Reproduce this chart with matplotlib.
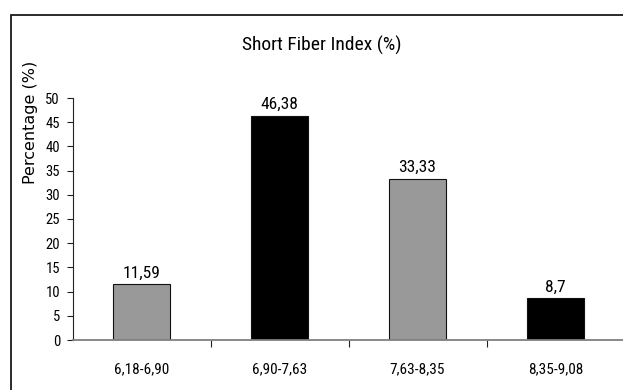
import matplotlib
matplotlib.use("Agg")
import matplotlib.pyplot as plt
from matplotlib.patches import Rectangle
from matplotlib.ticker import FixedLocator
from matplotlib import font_manager

categories = ["6,18-6,90", "6,90-7,63", "7,63-8,35", "8,35-9,08"]
values = [11.59, 46.38, 33.33, 8.7]
value_labels = ["11,59", "46,38", "33,33", "8,7"]
bar_colors = ["#999999", "#000000", "#999999", "#000000"]
y_ticks = list(range(0, 55, 5))

W, H = 623, 390

# pick a narrow face if one is installed
installed = {f.name for f in font_manager.fontManager.ttflist}
narrow_candidates = ["Liberation Sans Narrow", "DejaVu Sans Condensed",
                     "Roboto Condensed", "Open Sans Condensed", "Roboto"]
NARROW = [n for n in narrow_candidates if n in installed][:1] + ["DejaVu Sans"]

fig = plt.figure(figsize=(W / 100, H / 100), dpi=100)
fig.patch.set_facecolor("white")

# chart-area frame
fig.patches.append(Rectangle((11 / W, -0.2), 1.2, (H - 15) / H + 0.2,
                             transform=fig.transFigure, fill=False,
                             edgecolor="#1a1a1a", linewidth=1.3))

ax = fig.add_axes([72.5 / W, 50 / H, 552 / W, 242 / H])
x = list(range(len(categories)))
ax.bar(x, values, width=0.41, color=bar_colors, edgecolor="#111111",
       linewidth=0.8, zorder=2)

ax.set_xlim(-0.5, 3.5)
ax.set_ylim(0, 50)

for s in ("top", "right"):
    ax.spines[s].set_visible(False)
ax.spines["left"].set_color("#222222")
ax.spines["left"].set_linewidth(0.8)
ax.spines["bottom"].set_color("#808080")
ax.spines["bottom"].set_linewidth(1.3)
ax.spines["bottom"].set_zorder(3)

ax.set_yticks(y_ticks)
ax.set_yticklabels([str(v) for v in y_ticks], family=NARROW, fontsize=10.5)
ax.tick_params(axis="y", direction="out", length=4, width=0.8,
               color="#222222", pad=5)

ax.xaxis.set_major_locator(FixedLocator(x))
ax.set_xticklabels(categories, family=NARROW, fontsize=11)
ax.tick_params(axis="x", which="major", length=0, pad=16)
ax.xaxis.set_minor_locator(FixedLocator([0.5, 1.5, 2.5]))
ax.tick_params(axis="x", which="minor", direction="out", length=5,
               width=0.8, color="#222222")

for xi, v, lab in zip(x, values, value_labels):
    ax.annotate(lab, (xi, v), xytext=(0, 2.5), textcoords="offset points",
                ha="center", va="bottom", family=NARROW, fontsize=12.5)

fig.text(322 / W, 1 - 45 / H, "Short Fiber Index (%)", ha="center",
         va="center", family=NARROW, fontsize=14)
fig.text(31 / W, 1 - 122 / H, "Percentage (%)", rotation=90, ha="center",
         va="center", family="DejaVu Sans", fontsize=11.5)

fig.savefig("out.png", dpi=100)
